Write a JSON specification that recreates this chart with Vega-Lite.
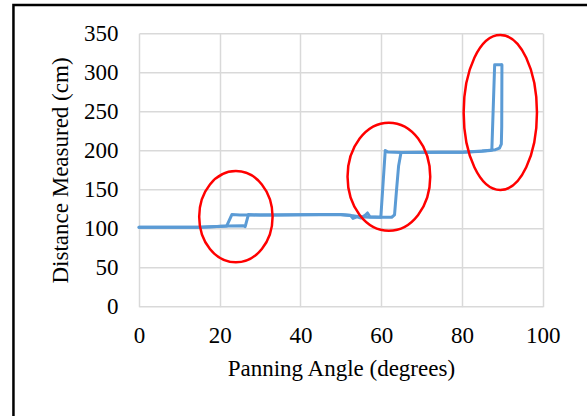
{
  "$schema": "https://vega.github.io/schema/vega-lite/v6.json",
  "width": 403.7,
  "height": 273.4,
  "autosize": {"type": "none"},
  "padding": {"left": 139, "top": 33.3, "right": 44.3, "bottom": 109.3},
  "background": "white",
  "config": {
    "view": {"stroke": null},
    "font": "Liberation Serif",
    "axis": {
      "grid": true,
      "gridColor": "#D9D9D9",
      "gridWidth": 1.5,
      "domain": false,
      "ticks": false,
      "labelFlush": false,
      "labelOverlap": false,
      "labelFont": "Liberation Serif",
      "labelFontSize": 23,
      "labelColor": "black",
      "titleFont": "Liberation Serif",
      "titleFontSize": 23,
      "titleFontWeight": "normal",
      "titleColor": "black"
    },
    "axisX": {"labelPadding": 18, "titlePadding": 10},
    "axisY": {"labelPadding": 21, "titlePadding": 11}
  },
  "datasets": {
    "sweeps": [
      {"sweep": "A", "angle": 0, "distance": 101.6},
      {"sweep": "A", "angle": 10, "distance": 101.6},
      {"sweep": "A", "angle": 15, "distance": 101.8},
      {"sweep": "A", "angle": 18, "distance": 102.5},
      {"sweep": "A", "angle": 21.7, "distance": 103.3},
      {"sweep": "A", "angle": 23, "distance": 118},
      {"sweep": "A", "angle": 25, "distance": 117.5},
      {"sweep": "A", "angle": 30, "distance": 117.4},
      {"sweep": "A", "angle": 35, "distance": 117.5},
      {"sweep": "A", "angle": 40, "distance": 117.8},
      {"sweep": "A", "angle": 45, "distance": 118},
      {"sweep": "A", "angle": 50, "distance": 118},
      {"sweep": "A", "angle": 52.4, "distance": 117},
      {"sweep": "A", "angle": 53, "distance": 113},
      {"sweep": "A", "angle": 54, "distance": 115},
      {"sweep": "A", "angle": 55, "distance": 113.5},
      {"sweep": "A", "angle": 56, "distance": 117},
      {"sweep": "A", "angle": 56.6, "distance": 120},
      {"sweep": "A", "angle": 57.2, "distance": 115},
      {"sweep": "A", "angle": 59.9, "distance": 114.5},
      {"sweep": "A", "angle": 61, "distance": 200},
      {"sweep": "A", "angle": 61.6, "distance": 198.2},
      {"sweep": "A", "angle": 65, "distance": 197.5},
      {"sweep": "A", "angle": 70, "distance": 197.6},
      {"sweep": "A", "angle": 75, "distance": 197.6},
      {"sweep": "A", "angle": 80, "distance": 197.8},
      {"sweep": "A", "angle": 84, "distance": 198.6},
      {"sweep": "A", "angle": 87, "distance": 200},
      {"sweep": "A", "angle": 87.4, "distance": 200.5},
      {"sweep": "A", "angle": 88.1, "distance": 309.8},
      {"sweep": "A", "angle": 89.8, "distance": 309.8},
      {"sweep": "B", "angle": 0, "distance": 101.6},
      {"sweep": "B", "angle": 10, "distance": 101.6},
      {"sweep": "B", "angle": 15, "distance": 101.8},
      {"sweep": "B", "angle": 18, "distance": 102.5},
      {"sweep": "B", "angle": 22, "distance": 103.3},
      {"sweep": "B", "angle": 25.9, "distance": 103.5},
      {"sweep": "B", "angle": 26.3, "distance": 102.5},
      {"sweep": "B", "angle": 27.1, "distance": 118},
      {"sweep": "B", "angle": 30, "distance": 117.3},
      {"sweep": "B", "angle": 40, "distance": 117.6},
      {"sweep": "B", "angle": 50, "distance": 117.8},
      {"sweep": "B", "angle": 53, "distance": 116.5},
      {"sweep": "B", "angle": 55, "distance": 115},
      {"sweep": "B", "angle": 57, "distance": 114.5},
      {"sweep": "B", "angle": 60, "distance": 114.5},
      {"sweep": "B", "angle": 62.6, "distance": 114.5},
      {"sweep": "B", "angle": 63.3, "distance": 117.5},
      {"sweep": "B", "angle": 63.8, "distance": 150},
      {"sweep": "B", "angle": 64.3, "distance": 180},
      {"sweep": "B", "angle": 64.9, "distance": 197.5},
      {"sweep": "B", "angle": 70, "distance": 197.4},
      {"sweep": "B", "angle": 75, "distance": 197.6},
      {"sweep": "B", "angle": 80, "distance": 197.8},
      {"sweep": "B", "angle": 85, "distance": 199.2},
      {"sweep": "B", "angle": 88.3, "distance": 201},
      {"sweep": "B", "angle": 89.3, "distance": 203},
      {"sweep": "B", "angle": 89.75, "distance": 208},
      {"sweep": "B", "angle": 89.85, "distance": 230},
      {"sweep": "B", "angle": 89.9, "distance": 309.8}
    ],
    "circles": [
      {"ring": "first", "angle": 24.0, "distance": 115.2},
      {"ring": "second", "angle": 61.9, "distance": 166.4},
      {"ring": "third", "angle": 89.5, "distance": 248.6}
    ]
  },
  "layer": [
    {
      "data": {"values": [{}]},
      "mark": {"type": "rect", "fill": null, "stroke": "black", "strokeWidth": 2.5, "clip": false},
      "encoding": {
        "x": {"datum": -31.1, "type": "quantitative", "scale": {"domain": [0, 100], "nice": false}, "title": "Panning Angle (degrees)", "axis": {"values": [0, 20, 40, 60, 80, 100]}},
        "x2": {"datum": 140},
        "y": {"datum": 386.3, "type": "quantitative", "scale": {"domain": [0, 350], "nice": false}, "title": "Distance Measured (cm)", "axis": {"values": [0, 50, 100, 150, 200, 250, 300, 350]}},
        "y2": {"datum": -200}
      }
    },
    {
      "data": {"name": "sweeps"},
      "mark": {"type": "line", "stroke": "#5B9BD5", "strokeWidth": 3, "strokeJoin": "round", "strokeCap": "round"},
      "encoding": {
        "x": {"field": "angle", "type": "quantitative", "scale": {"domain": [0, 100], "nice": false}, "title": "Panning Angle (degrees)", "axis": {"values": [0, 20, 40, 60, 80, 100]}},
        "y": {"field": "distance", "type": "quantitative", "scale": {"domain": [0, 350], "nice": false}, "title": "Distance Measured (cm)", "axis": {"values": [0, 50, 100, 150, 200, 250, 300, 350]}},
        "detail": {"field": "sweep"}
      }
    },
    {
      "data": {"name": "circles"},
      "transform": [{"filter": "datum.ring === 'first'"}],
      "mark": {"type": "point", "filled": false, "stroke": "#FF0000", "strokeWidth": 2.5, "opacity": 1, "size": 5388, "shape": "M-1,0A1,1.244,0,1,1,1,0A1,1.244,0,1,1,-1,0Z"},
      "encoding": {
        "x": {"field": "angle", "type": "quantitative", "scale": {"domain": [0, 100], "nice": false}, "title": "Panning Angle (degrees)", "axis": {"values": [0, 20, 40, 60, 80, 100]}},
        "y": {"field": "distance", "type": "quantitative", "scale": {"domain": [0, 350], "nice": false}, "title": "Distance Measured (cm)", "axis": {"values": [0, 50, 100, 150, 200, 250, 300, 350]}}
      }
    },
    {
      "data": {"name": "circles"},
      "transform": [{"filter": "datum.ring === 'second'"}],
      "mark": {"type": "point", "filled": false, "stroke": "#FF0000", "strokeWidth": 2.5, "opacity": 1, "size": 6839, "shape": "M-1,0A1,1.306,0,1,1,1,0A1,1.306,0,1,1,-1,0Z"},
      "encoding": {
        "x": {"field": "angle", "type": "quantitative", "scale": {"domain": [0, 100], "nice": false}, "title": "Panning Angle (degrees)", "axis": {"values": [0, 20, 40, 60, 80, 100]}},
        "y": {"field": "distance", "type": "quantitative", "scale": {"domain": [0, 350], "nice": false}, "title": "Distance Measured (cm)", "axis": {"values": [0, 50, 100, 150, 200, 250, 300, 350]}}
      }
    },
    {
      "data": {"name": "circles"},
      "transform": [{"filter": "datum.ring === 'third'"}],
      "mark": {"type": "point", "filled": false, "stroke": "#FF0000", "strokeWidth": 2.5, "opacity": 1, "size": 5373, "shape": "M-1,0A1,2.115,0,1,1,1,0A1,2.115,0,1,1,-1,0Z"},
      "encoding": {
        "x": {"field": "angle", "type": "quantitative", "scale": {"domain": [0, 100], "nice": false}, "title": "Panning Angle (degrees)", "axis": {"values": [0, 20, 40, 60, 80, 100]}},
        "y": {"field": "distance", "type": "quantitative", "scale": {"domain": [0, 350], "nice": false}, "title": "Distance Measured (cm)", "axis": {"values": [0, 50, 100, 150, 200, 250, 300, 350]}}
      }
    }
  ]
}
